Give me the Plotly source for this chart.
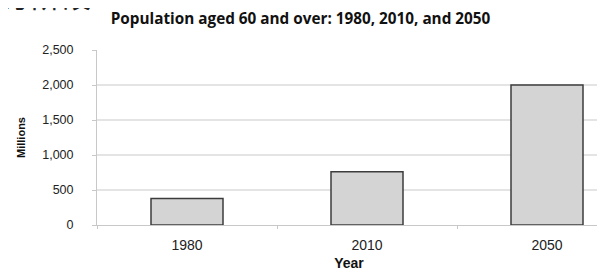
import plotly.graph_objects as go

years = ["1980", "2010", "2050"]
population_millions = [378, 759, 2000]
y_ticks = [0, 500, 1000, 1500, 2000, 2500]
y_tick_labels = ["0", "500", "1,000", "1,500", "2,000", "2,500"]

title_text = "Population aged 60 and over: 1980, 2010, and 2050"
clipped_heading = "分阶段"

fig = go.Figure()
fig.add_trace(go.Bar(
    x=years, y=population_millions, width=0.4,
    marker=dict(color="#d4d4d4", line=dict(color="#3c3c3c", width=1.5)),
))

fig.update_layout(
    width=597, height=265,
    margin=dict(l=89, r=4, t=42, b=46),
    paper_bgcolor="white", plot_bgcolor="white",
    showlegend=False,
    font=dict(family="Liberation Sans, Arial", color="#222"),
    title=dict(text="<b>" + title_text + "</b>", x=0.49, xanchor="center",
               y=0.958, yanchor="middle",
               font=dict(family="Open Sans", size=15.3, color="#111")),
)
fig.update_xaxes(
    type="category", range=[-0.5, 2.3],
    showline=True, linecolor="#c8c8c8", linewidth=1,
    ticks="outside", ticklen=3, tickcolor="#c8c8c8", tickson="boundaries",
    ticklabelstandoff=7,
    tickfont=dict(size=14, color="#222"),
    title=dict(text="<b>Year</b>", font=dict(size=14, color="#111"), standoff=6),
    showgrid=False,
)
fig.update_yaxes(
    range=[0, 2500], tickvals=y_ticks, ticktext=y_tick_labels,
    showline=True, linecolor="#c8c8c8", linewidth=1,
    ticks="outside", ticklen=4, tickcolor="#c8c8c8",
    ticklabelstandoff=16,
    showgrid=True, gridcolor="#e4e4e4", gridwidth=1.5,
    tickfont=dict(size=12.5, color="#222"),
    title=dict(text="<b>Millions</b>", font=dict(size=11, color="#111"), standoff=14),
    zeroline=False,
)
fig.add_annotation(
    text=clipped_heading, xref="paper", yref="paper",
    x=-0.194, y=1.181, xanchor="left", yanchor="bottom",
    showarrow=False,
    font=dict(family="Noto Sans CJK SC", size=30, color="#222"),
)

fig.write_html("out.html")
